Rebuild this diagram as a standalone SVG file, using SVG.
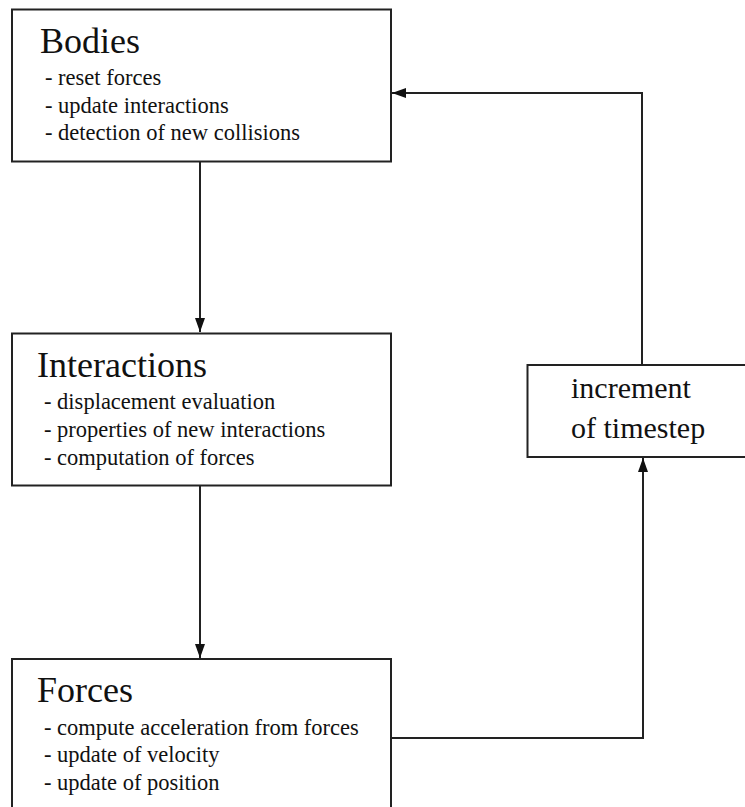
<svg xmlns="http://www.w3.org/2000/svg" width="745" height="807" viewBox="0 0 745 807">
<style>
.box{fill:#fff;stroke:#222;stroke-width:2}
text{font-family:"Liberation Serif","Times New Roman","DejaVu Serif",Times,serif;fill:#111}
.title{font-size:36px}
.item{font-size:22.5px}
.label{font-size:30px}
.edge{fill:none;stroke:#222;stroke-width:2}
</style>
<defs>
<marker id="arr" viewBox="0 0 14 10" refX="14" refY="5" markerWidth="14" markerHeight="10" markerUnits="userSpaceOnUse" orient="auto">
<path d="M0,0 L14,5 L0,10 Z" fill="#111"/>
</marker>
</defs>
<rect width="745" height="807" fill="#fff"/>
<g id="connectors">
<path class="edge" d="M200,161 L200,332" marker-end="url(#arr)"/>
<path class="edge" d="M200,486 L200,658" marker-end="url(#arr)"/>
<path class="edge" d="M391,738 L643,738 L643,458" marker-end="url(#arr)"/>
<path class="edge" d="M642,365 L642,93 L392,93" marker-end="url(#arr)"/>
</g>
<g id="bodies">
<rect class="box" x="12" y="9.5" width="379" height="152"/>
<text class="title" x="40" y="53">Bodies</text>
<text class="item" x="45" y="85">- reset forces</text>
<text class="item" x="45" y="112.5">- update interactions</text>
<text class="item" x="45" y="140">- detection of new collisions</text>
</g>
<g id="interactions">
<rect class="box" x="12" y="333.5" width="379" height="152"/>
<text class="title" x="37" y="377">Interactions</text>
<text class="item" x="44" y="409">- displacement evaluation</text>
<text class="item" x="44" y="437">- properties of new interactions</text>
<text class="item" x="44" y="465">- computation of forces</text>
</g>
<g id="forces">
<rect class="box" x="12" y="659" width="379" height="160"/>
<text class="title" x="37" y="702">Forces</text>
<text class="item" x="44" y="735">- compute acceleration from forces</text>
<text class="item" x="44" y="762">- update of velocity</text>
<text class="item" x="44" y="790">- update of position</text>
</g>
<g id="increment">
<rect class="box" x="527.5" y="365" width="240" height="92"/>
<text class="label" x="571" y="398">increment</text>
<text class="label" x="571" y="438">of timestep</text>
</g>
</svg>
